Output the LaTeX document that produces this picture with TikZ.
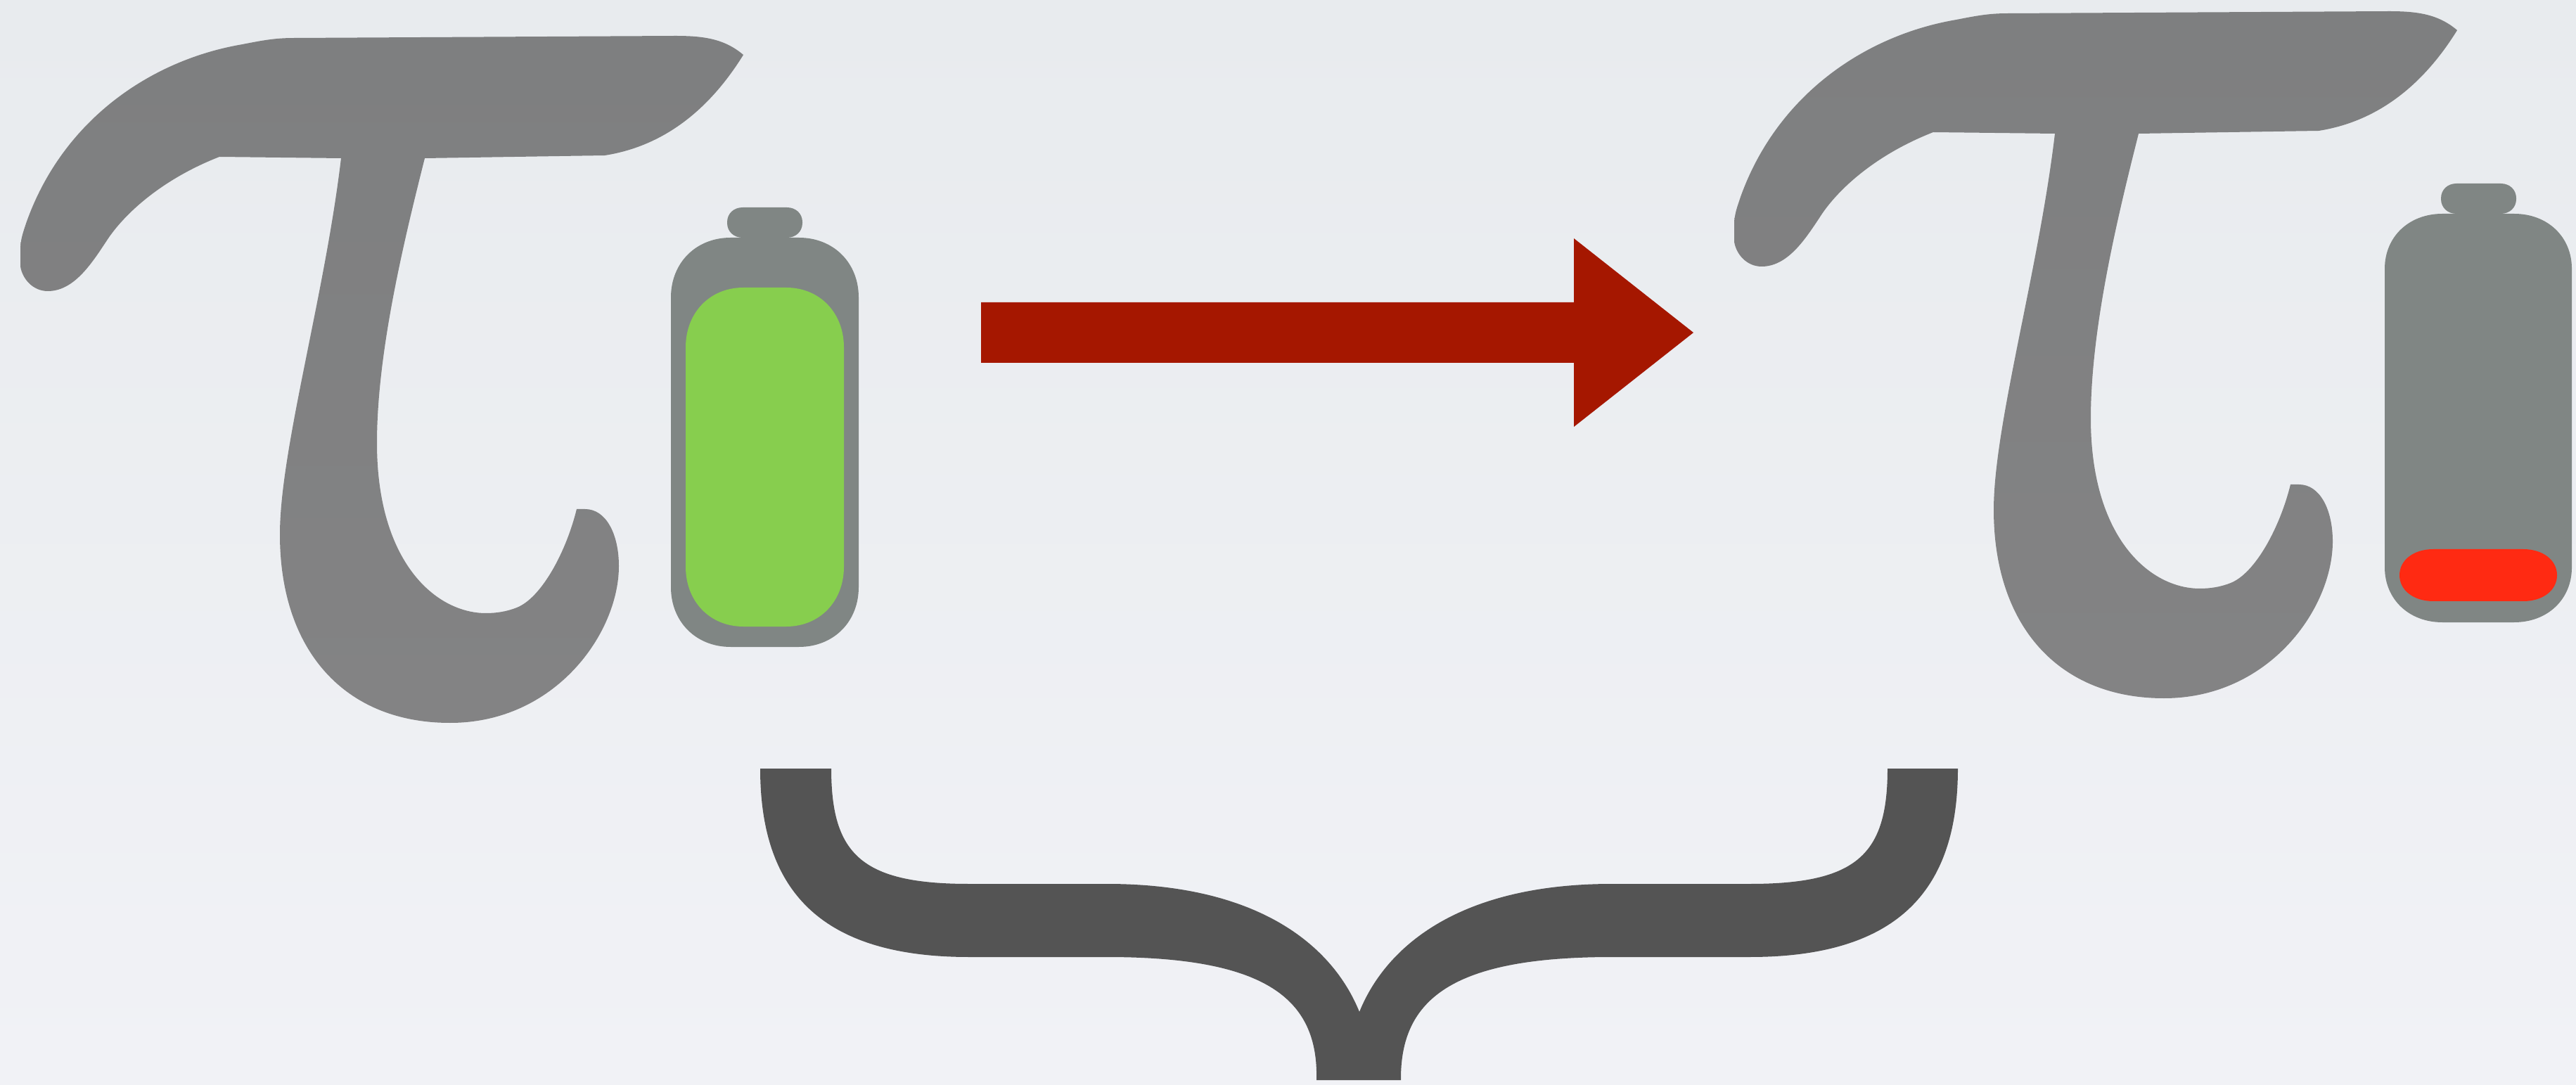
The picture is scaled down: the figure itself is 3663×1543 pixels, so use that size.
\documentclass[tikz,border=0pt]{standalone}
\definecolor{bgtop}{HTML}{E8EBEE}
\definecolor{bgbot}{HTML}{F1F2F6}
\definecolor{tautop}{HTML}{7E7F80}
\definecolor{taubot}{HTML}{838384}
\definecolor{battgrey}{HTML}{808684}
\definecolor{battgreen}{HTML}{87CE4E}
\definecolor{battred}{HTML}{FF2A12}
\definecolor{arrowred}{HTML}{A51700}
\definecolor{bracegrey}{HTML}{545454}
\tikzset{
  taushape/.style={top color=tautop,bottom color=taubot,draw=none},
  battbody/.style={fill=battgrey,draw=none},
  chargefull/.style={fill=battgreen,draw=none},
  chargelow/.style={fill=battred,draw=none},
  bigarrow/.style={fill=arrowred,draw=none},
  bracefill/.style={fill=bracegrey,draw=none}
}
% rounded box with continuous corners: x1,y1,x2,y2,rx,ry
\newcommand{\sqbox}[6]{
  ({#1},{#2+#6}) .. controls ({#1},{#2+0.42*#6}) and ({#1+0.42*#5},{#2}) .. ({#1+#5},{#2})
  -- ({#3-#5},{#2}) .. controls ({#3-0.42*#5},{#2}) and ({#3},{#2+0.42*#6}) .. ({#3},{#2+#6})
  -- ({#3},{#4-#6}) .. controls ({#3},{#4-0.42*#6}) and ({#3-0.42*#5},{#4}) .. ({#3-#5},{#4})
  -- ({#1+#5},{#4}) .. controls ({#1+0.42*#5},{#4}) and ({#1},{#4-0.42*#6}) .. ({#1},{#4-#6}) -- cycle
}
\newcommand{\tauglyph}{
  \shade[taushape]
    (1057,78) .. controls (1030,55) and (1000,51) .. (960,51)
    -- (420,54)
    .. controls (395,54) and (380,56) .. (345,63)
    .. controls (215,85) and (90,170) .. (38,315)
    .. controls (33,330) and (29,340) .. (29,355)
    -- (29,379)
    .. controls (32,397) and (47,414) .. (68,414)
    .. controls (105,414) and (130,375) .. (150,345)
    .. controls (175,305) and (230,255) .. (312,223)
    -- (485,225)
    .. controls (462,420) and (398,640) .. (398,760)
    .. controls (398,925) and (490,1028) .. (640,1028)
    .. controls (790,1028) and (880,900) .. (880,805)
    .. controls (880,760) and (862,724) .. (832,724)
    -- (820,724)
    .. controls (805,785) and (770,850) .. (735,864)
    .. controls (720,870) and (705,872) .. (691,872)
    .. controls (620,872) and (536,800) .. (536,630)
    .. controls (536,500) and (575,340) .. (604,225)
    -- (860,221)
    .. controls (930,210) and (1000,170) .. (1057,78)
    -- cycle;
}
\begin{document}
\begin{tikzpicture}[x=0.01cm,y=-0.01cm]
\useasboundingbox (0,0) rectangle (3663,1543);
\shade[top color=bgtop,bottom color=bgbot] (0,0) rectangle (3663,1543);
% left tau
\tauglyph
% right tau
\begin{scope}[shift={(2437,-35)}]
\tauglyph
\end{scope}
% left battery
\fill[battbody] \sqbox{1034}{295}{1141}{338}{22}{21};
\fill[battbody] \sqbox{954}{338}{1221}{920}{85}{85};
\fill[chargefull] \sqbox{975}{409}{1200}{891}{82}{85};
% right battery
\fill[battbody] \sqbox{3471}{261}{3578}{304}{22}{21};
\fill[battbody] \sqbox{3391}{304}{3657}{885}{82}{78};
\fill[chargelow] \sqbox{3412}{781}{3636}{855}{48}{37};
% arrow
\fill[bigarrow] (1395,430) -- (2238,430) -- (2238,339) -- (2408,473) -- (2238,607) -- (2238,516) -- (1395,516) -- cycle;
% brace
\fill[bracefill]
  (1081,1093) -- (1182,1093)
  .. controls (1182,1215) and (1225,1257) .. (1378,1257)
  -- (1574,1257)
  .. controls (1790,1257) and (1895,1345) .. (1933,1439)
  .. controls (1971,1345) and (2076,1257) .. (2292,1257)
  -- (2488,1257)
  .. controls (2641,1257) and (2684,1215) .. (2684,1093)
  -- (2784,1093)
  .. controls (2784,1260) and (2705,1361) .. (2488,1361)
  -- (2292,1361)
  .. controls (2066,1361) and (1991,1420) .. (1992,1536)
  -- (1872,1536)
  .. controls (1875,1420) and (1800,1361) .. (1574,1361)
  -- (1378,1361)
  .. controls (1160,1361) and (1081,1260) .. (1081,1093) -- cycle;
\end{tikzpicture}
\end{document}
